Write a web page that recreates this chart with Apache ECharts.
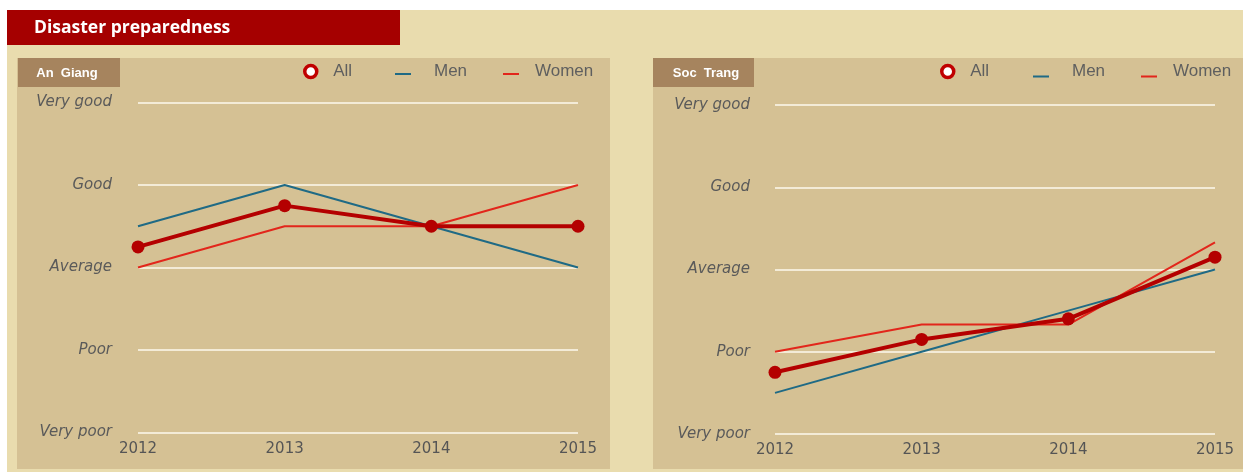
<!DOCTYPE html>
<html>
<head>
<meta charset="utf-8">
<script src="https://cdn.jsdelivr.net/npm/echarts@6/dist/echarts.min.js"></script>
<style>
  html, body { margin: 0; padding: 0; background: #fff; }
  #chart { width: 1243px; height: 472px; }
</style>
</head>
<body>
<div id="chart"></div>
<script>
// data (1 = Very poor ... 5 = Very good)
const years = ["2012", "2013", "2014", "2015"];
const levels = ["Very poor", "Poor", "Average", "Good", "Very good"];

const anGiangAll = [3.25, 3.75, 3.5, 3.5];
const anGiangMen = [3.5, 4, 3.5, 3];
const anGiangWomen = [3, 3.5, 3.5, 4];

const socTrangAll = [1.75, 2.15, 2.4, 3.15];
const socTrangMen = [1.5, 2, 2.5, 3];
const socTrangWomen = [2, 2.33, 2.33, 3.33];

const colAll = "#B40000";
const colMen = "#1F6A85";
const colWomen = "#E2261B";

const chart = echarts.init(document.getElementById("chart"));

// build axis pairs
function xAx(idx) {
  return {
    type: "category", gridIndex: idx, data: years, boundaryGap: false,
    axisLine: { show: false }, axisTick: { show: false },
    axisLabel: { margin: 9, color: "#555", fontSize: 15, fontFamily: "DejaVu Sans" }
  };
}
function yAx(idx, margin) {
  return {
    type: "value", gridIndex: idx, min: 1, max: 5, interval: 1,
    axisLine: { show: false }, axisTick: { show: false },
    splitLine: { lineStyle: { color: "#F3EBD7", width: 2 } },
    axisLabel: {
      margin: margin, color: "#5a5a5a", fontSize: 15, fontStyle: "italic",
      fontFamily: "DejaVu Sans",
      formatter: (v) => levels[v - 1]
    }
  };
}
function thin(name, data, color, idx) {
  return {
    name: name, type: "line", data: data, xAxisIndex: idx, yAxisIndex: idx,
    showSymbol: false, symbol: "none", lineStyle: { color: color, width: 2 },
    itemStyle: { color: color }, z: 2
  };
}
function thick(data, idx) {
  return {
    name: "All", type: "line", data: data, xAxisIndex: idx, yAxisIndex: idx,
    symbol: "circle", symbolSize: 13,
    lineStyle: { color: colAll, width: 4 }, itemStyle: { color: colAll }, z: 3
  };
}

// one legend per item so each one sits where it does in the picture
const legText = { color: "#5f5f5f", fontSize: 17, fontFamily: "Liberation Sans" };
function legAll(left) {
  return {
    left: left, top: 63, padding: 0, itemWidth: 15, itemHeight: 12,
    data: [{ name: "All", icon: "circle",
      itemStyle: { color: "#fff", borderColor: "#C00000", borderWidth: 3.5 } }],
    textStyle: Object.assign({ padding: [0, 0, 0, 10] }, legText)
  };
}
function legLine(name, left, color, low, pad) {
  // the thin strip at the top only sets the icon box, the visible line is at the bottom
  const icon = low
    ? "path://M0,0L16,0L16,0.01L0,0.01Z M0,10L16,10L16,12L0,12Z"
    : "path://M0,0L16,0L16,0.01L0,0.01Z M0,5L16,5L16,7L0,7Z";
  return {
    left: left, top: 63, padding: 0, itemWidth: 16, itemHeight: low ? 12 : 8,
    data: [{ name: name, icon: icon, itemStyle: { color: color } }],
    textStyle: Object.assign({ padding: [0, 0, 0, pad] }, legText)
  };
}

const option = {
  animation: false,
  backgroundColor: "#fff",
  graphic: [
    { type: "rect", z: -10, shape: { x: 7, y: 10, width: 1236, height: 462 }, style: { fill: "#E9DCAE" } },
    { type: "rect", z: -9, shape: { x: 17, y: 58, width: 593, height: 411 }, style: { fill: "#D5C194" } },
    { type: "rect", z: -9, shape: { x: 653, y: 58, width: 590, height: 411 }, style: { fill: "#D5C194" } },
    { type: "rect", z: -8, shape: { x: 7, y: 10, width: 393, height: 35 }, style: { fill: "#A50000" } },
    { type: "rect", z: -8, shape: { x: 18, y: 58, width: 102, height: 29 }, style: { fill: "#A6845E" } },
    { type: "rect", z: -8, shape: { x: 653, y: 58, width: 101, height: 29 }, style: { fill: "#A6845E" } },
    { type: "text", z: 10, x: 34, y: 28,
      style: { text: "Disaster preparedness", fill: "#fff", font: "bold 17.5px 'Open Sans', 'Liberation Sans'", verticalAlign: "middle" } },
    { type: "text", z: 10, x: 67, y: 73,
      style: { text: "An  Giang", fill: "#fff", font: "bold 13px 'Liberation Sans Narrow', 'Liberation Sans'", align: "center", verticalAlign: "middle" } },
    { type: "text", z: 10, x: 706, y: 73,
      style: { text: "Soc  Trang", fill: "#fff", font: "bold 13px 'Liberation Sans Narrow', 'Liberation Sans'", align: "center", verticalAlign: "middle" } }
  ],
  legend: [
    legAll(303), legLine("Men", 395, colMen, false, 18), legLine("Women", 503, colWomen, false, 11),
    legAll(940), legLine("Men", 1033, colMen, true, 18), legLine("Women", 1141, colWomen, true, 11)
  ],
  grid: [
    { left: 138, top: 102.5, width: 440, height: 330 },
    { left: 775, top: 105, width: 440, height: 329 }
  ],
  xAxis: [xAx(0), xAx(1)],
  yAxis: [yAx(0, 26), yAx(1, 25)],
  series: [
    thin("Men", anGiangMen, colMen, 0),
    thin("Women", anGiangWomen, colWomen, 0),
    thick(anGiangAll, 0),
    thin("Men", socTrangMen, colMen, 1),
    thin("Women", socTrangWomen, colWomen, 1),
    thick(socTrangAll, 1)
  ]
};

chart.setOption(option);
</script>
</body>
</html>
